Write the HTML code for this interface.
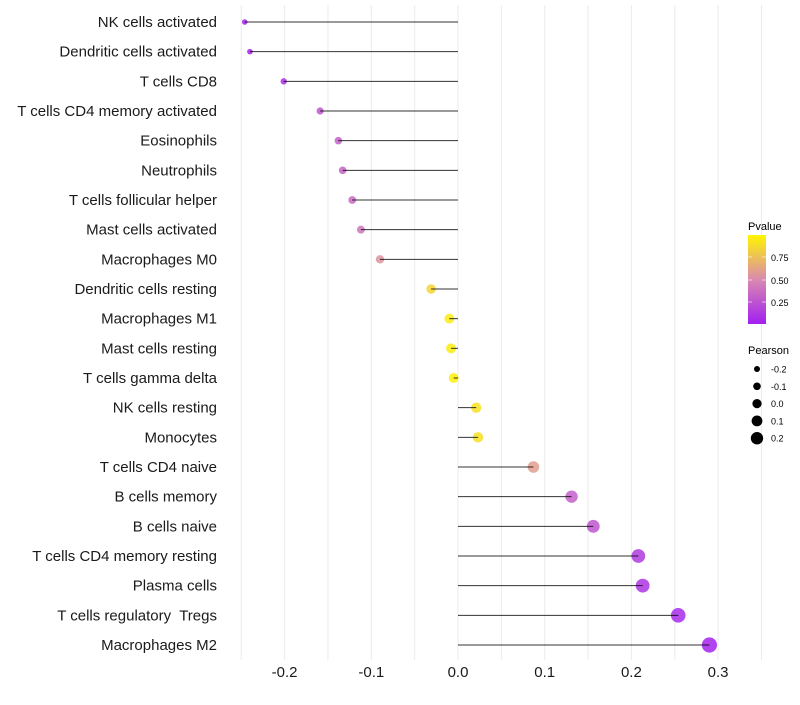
<!DOCTYPE html>
<html><head><meta charset="utf-8"><style>
body{margin:0;background:#fff;font-family:"Liberation Sans",sans-serif}
text{white-space:pre}
</style></head><body>
<svg id="c" width="800" height="700" xmlns="http://www.w3.org/2000/svg">
<defs><linearGradient id="pg" x1="0" y1="1" x2="0" y2="0">
<stop offset="0" stop-color="#a21ff0"/><stop offset="0.5" stop-color="#d98ab0"/><stop offset="1" stop-color="#fff500"/></linearGradient></defs>
<g id="grid"></g><g id="marks"></g><g id="ylab"></g><g id="xlab"></g>
<g font-size="10">
<text x="748" y="230" font-size="11">Pvalue</text>
<rect x="748" y="235" width="18" height="89" fill="url(#pg)"/>
<line x1="748" x2="752" y1="257" y2="257" stroke="#fff" opacity=".6"/><line x1="762" x2="766" y1="257" y2="257" stroke="#fff" opacity=".6"/>
<line x1="748" x2="752" y1="280" y2="280" stroke="#fff" opacity=".6"/><line x1="762" x2="766" y1="280" y2="280" stroke="#fff" opacity=".6"/>
<line x1="748" x2="752" y1="302" y2="302" stroke="#fff" opacity=".6"/><line x1="762" x2="766" y1="302" y2="302" stroke="#fff" opacity=".6"/>
<text x="771" y="261" font-size="9">0.75</text><text x="771" y="284" font-size="9">0.50</text><text x="771" y="306" font-size="9">0.25</text>
</g>
<g id="sizeleg"><text x="748" y="354" font-size="11">Pearson</text></g>
</svg>
<script>
const cells=["NK cells activated","Dendritic cells activated","T cells CD8","T cells CD4 memory activated","Eosinophils","Neutrophils","T cells follicular helper","Mast cells activated","Macrophages M0","Dendritic cells resting","Macrophages M1","Mast cells resting","T cells gamma delta","NK cells resting","Monocytes","T cells CD4 naive","B cells memory","B cells naive","T cells CD4 memory resting","Plasma cells","T cells regulatory  Tregs","Macrophages M2"];
const pearson=[-0.246,-0.240,-0.201,-0.159,-0.138,-0.133,-0.122,-0.112,-0.090,-0.031,-0.010,-0.008,-0.005,0.021,0.023,0.087,0.131,0.156,0.208,0.213,0.254,0.290];
const pvalue=[0.02,0.03,0.08,0.25,0.3,0.32,0.35,0.4,0.55,0.85,0.95,0.96,0.98,0.9,0.9,0.6,0.3,0.25,0.12,0.1,0.05,0.02];
const xTicks=[-0.2,-0.1,0.0,0.1,0.2,0.3];
const xTickLabels=["-0.2","-0.1","0.0","0.1","0.2","0.3"];
const sizeLegend=[-0.2,-0.1,0.0,0.1,0.2];
const NS="http://www.w3.org/2000/svg";
const X=v=>458+v*867;
const Y=i=>22+i*(623/21);
const R=v=>Math.max(1.8,5+9*v);
function hex(h){return [1,3,5].map(k=>parseInt(h.substr(k,2),16))}
function col(p){const a=hex("#a21ff0"),b=hex("#d98ab0"),c=hex("#fff500");let s,e,t;if(p<0.5){s=a;e=b;t=p/0.5}else{s=b;e=c;t=(p-0.5)/0.5}return "rgb("+s.map((v,k)=>Math.round(v+(e[k]-v)*t)).join(",")+")"}
function mk(tag,at,parent){const e=document.createElementNS(NS,tag);for(const k in at)e.setAttribute(k,at[k]);parent.appendChild(e);return e}
const g=document.getElementById("grid"),m=document.getElementById("marks"),yl=document.getElementById("ylab"),xl=document.getElementById("xlab"),sl=document.getElementById("sizeleg");
for(let v=-0.25;v<=0.351;v+=0.05){const l=mk("line",{x1:X(v),x2:X(v),y1:5,y2:660,stroke:"#ebebeb","stroke-width":1},g);

}
cells.forEach((c,i)=>{
 const p=mk("circle",{cx:X(pearson[i]),cy:Y(i),r:R(pearson[i]),fill:col(pvalue[i]),"fill-opacity":0.85},m);
 
 
 const s=mk("line",{x1:X(0),x2:X(pearson[i]),y1:Y(i),y2:Y(i),stroke:"#000","stroke-width":1,"stroke-opacity":0.8},m);
 
 
 const t=mk("text",{x:217,y:Y(i)+5,"text-anchor":"end","font-size":15,fill:"#1a1a1a"},yl);t.textContent=c;
 
 
});
xTicks.forEach((v,i)=>{const t=mk("text",{x:X(v),y:677,"text-anchor":"middle","font-size":15,fill:"#1a1a1a"},xl);t.textContent=xTickLabels[i];
 
 });
sizeLegend.forEach((v,i)=>{const y=369+i*17.3;const c=mk("circle",{cx:757,cy:y,r:3+0.8*i,fill:"#000"},sl);
 
 
 const t=mk("text",{x:771,y:y+3.5,"font-size":9},sl);t.textContent=v.toFixed(1);
 
 });
</script>
</body></html>
